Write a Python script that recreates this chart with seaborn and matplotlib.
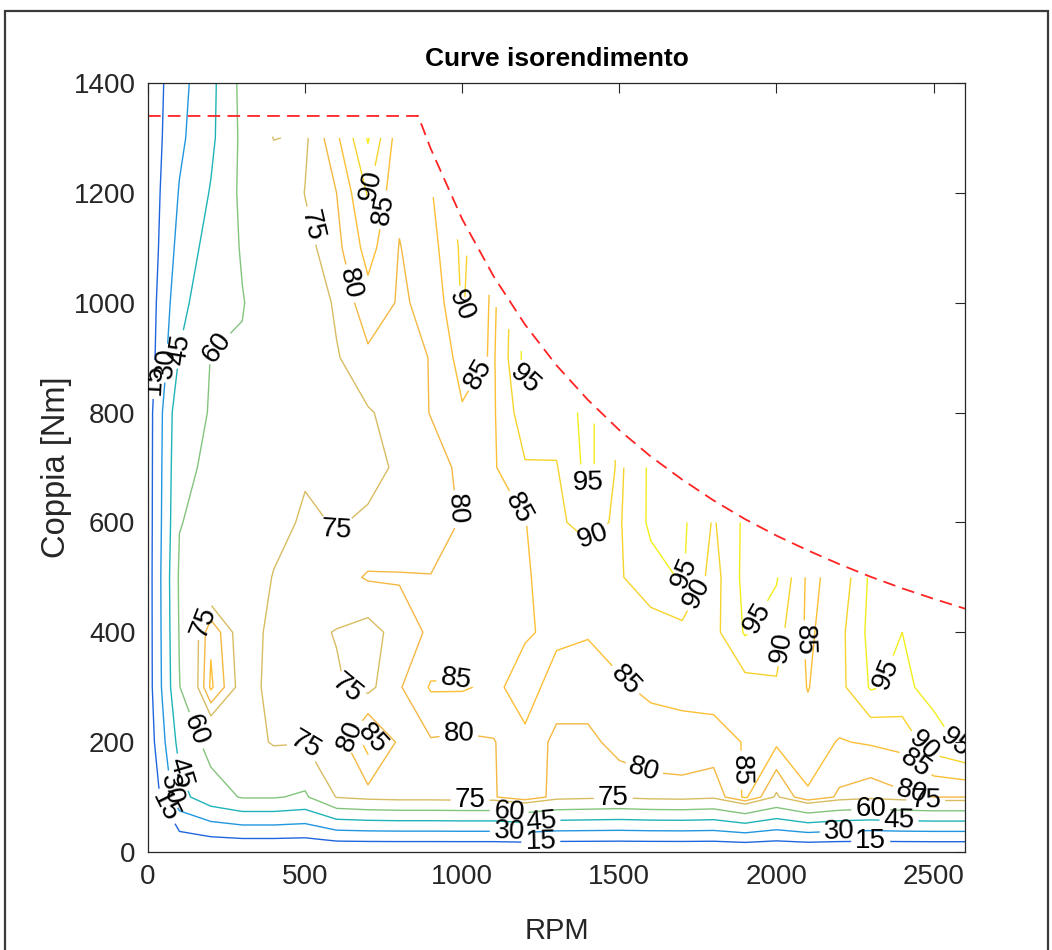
import numpy as np
import matplotlib
matplotlib.use("Agg")
import matplotlib.pyplot as plt
from matplotlib import font_manager
import seaborn as sns
from matplotlib.patches import Rectangle

# ---------------- data ----------------
N = np.nan
rpm = [0, 100, 200, 300, 400, 500, 600, 700, 800, 900, 1000, 1100, 1200, 1300,
       1400, 1500, 1600, 1700, 1800, 1900, 2000, 2100, 2200, 2300, 2400, 2500, 2600]
torque = [0, 100, 200, 300, 400, 500, 600, 700, 800, 900, 1000, 1100, 1200, 1300, 1400]

# efficiency (%) rows, one per torque value, columns follow `rpm`
eff_t0 = [0] * 27
eff_t100 = [0, 40, 54, 61, 61, 58, 75.5, 78, 79, 79, 79.5, 79.5, 84, 78, 77, 76, 77.5,
            78, 76.5, 86, 74, 84.5, 79, 77, 79, 80, 80]
eff_t200 = [6, 50, 65, 70, 76, 75.5, 77, 87, 79, 79.5, 79, 79.7, 84, 78.5, 78.5, 82, 83,
            83, 83, 85.3, 86, 87, 84.7, 85.5, 86.5, 93, 96]
eff_t300 = [8, 59.5, 86, 72, 77, 77, 75.5, 73.5, 79.5, 85.5, 85.5, 84, 87, 83, 83, 84.5,
            85.8, 86.5, 87, 88, 89.5, 84.8, 88.5, 95.5, 94, 96.5, 96.5]
eff_t400 = [8, 61, 84, 71, 77, 76, 74.8, 73, 77, 81, 82, 84, 84.5, 86, 85.3, 86.5, 87.5,
            88.5, 88.5, 95.5, 92, 84, 88.5, 96.5, 95, 96, 96.5]
eff_t500 = [8, 62, 66, 68, 75.5, 77, 78, 80.5, 80.5, 80.2, 81.5, 83.5, 84.5, 87, 88, 89.5,
            93, 95.5, 88, 96.5, 95.5, 84, 86.5, 96, N, N, N]
eff_t600 = [8, 59.5, 64, 66, 72, 76.3, 74.5, 76, 75.2, 77, 80.5, 84, 84.8, 89.5, 91, 89.5,
            96, 96, 89.5, 96, N, N, N, N, N, N, N]
eff_t700 = [8, 58, 61.5, 65, 70, 74, 72.5, 73, 76, 78, 81, 84.5, 89.5, 89.7, 96.5, 89, 96,
            N, N, N, N, N, N, N, N, N, N]
eff_t800 = [8, 56, 60.5, 63, 69, 71, 72, 74.5, 77, 80.2, 84.5, 84.5, 93, 92, 96.5,
            N, N, N, N, N, N, N, N, N, N, N, N]
eff_t900 = [6, 46, 60.3, 61, 68, 70, 74.5, 79, 78, 80.2, 87, 84.5, 96.5,
            N, N, N, N, N, N, N, N, N, N, N, N, N, N]
eff_t1000 = [6, 40, 56, 59.5, 66, 70, 76, 83, 79.5, 81, 90.5, 84,
             N, N, N, N, N, N, N, N, N, N, N, N, N, N, N]
eff_t1100 = [5, 35, 51, 61, 66, 73, 78.5, 87, 79.8, 83, 91,
             N, N, N, N, N, N, N, N, N, N, N, N, N, N, N, N]
eff_t1200 = [5, 31, 46, 63, 68, 75.2, 80, 90.5, 81, 84.5,
             N, N, N, N, N, N, N, N, N, N, N, N, N, N, N, N, N]
eff_t1300 = [5, 27, 42, 63, 75.3, 74, 84, 95.5, 82,
             N, N, N, N, N, N, N, N, N, N, N, N, N, N, N, N, N, N]
eff_t1400 = [5, 25, 41, 64,
             N, N, N, N, N, N, N, N, N, N, N, N, N, N, N, N, N, N, N, N, N, N, N]

levels = [15, 30, 45, 60, 75, 80, 85, 90, 95]

# maximum torque curve
curve_rpm = [0, 860, 900, 1000, 1100, 1200, 1300, 1400, 1500, 1600, 1700, 1800,
             1900, 2000, 2100, 2200, 2300, 2400, 2500, 2600]
curve_torque = [1340, 1340, 1280, 1152, 1048, 960, 886, 823, 768, 720, 678, 640,
                606, 576, 549, 524, 501, 480, 461, 443]

# ---------------- style ----------------
sns.set_theme(style="white")
available = {f.name for f in font_manager.fontManager.ttflist}
if "Liberation Sans Narrow" in available:
    narrow = "Liberation Sans Narrow"
    tick_size, title_size, xlab_size = 22, 21, 22
else:
    narrow = "Liberation Sans"
    tick_size, title_size, xlab_size = 20, 19, 21
plt.rcParams["font.family"] = [narrow, "Liberation Sans", "DejaVu Sans"]
plt.rcParams["axes.edgecolor"] = "#262626"
plt.rcParams["axes.linewidth"] = 0.9

level_colors = ["#1f66de", "#2196df", "#1fb3b9", "#83c47c", "#d8bc62",
                "#f4b843", "#fcbf35", "#f6d42c", "#f2ee1c"]

Z = np.array([eff_t0, eff_t100, eff_t200, eff_t300, eff_t400, eff_t500, eff_t600,
              eff_t700, eff_t800, eff_t900, eff_t1000, eff_t1100, eff_t1200,
              eff_t1300, eff_t1400], dtype=float)

fig = plt.figure(figsize=(10.52, 9.5), dpi=100)
ax = fig.add_axes([148 / 1052, 1 - 852 / 950, (965 - 148) / 1052, (852 - 83) / 950])

cs = ax.contour(rpm, torque, Z, levels=levels, colors=level_colors, linewidths=1.0)

sns.lineplot(x=curve_rpm, y=curve_torque, ax=ax, color="#ff2424", linewidth=1.3)
ax.lines[-1].set_dashes((7, 4))

label_pos = [(25, 860), (60, 890), (105, 915), (268, 892), (525, 1141), (621, 1032),
             (713, 1214), (748, 1169), (1000, 996), (1041, 874), (1190, 860),
             (971, 623), (1210, 635), (1424, 659), (1417, 573), (596, 553),
             (633, 295), (516, 200), (640, 213), (713, 207), (166, 422), (156, 222),
             (111, 146), (70, 113), (48, 80), (978, 328), (984, 240), (1025, 127),
             (1150, 80), (1250, 60), (1150, 40), (1250, 20), (1481, 95), (1576, 146),
             (1519, 313), (1710, 508), (1726, 477), (1895, 149), (1960, 420),
             (2038, 371), (2076, 386), (2341, 326), (2300, 80), (2390, 60),
             (2200, 40), (2300, 20), (2452, 182), (2427, 149), (2433, 116),
             (2570, 200), (2475, 95)]
ax.clabel(cs, manual=label_pos, inline=True, fmt="%d", fontsize=20,
          inline_spacing=4)
for t in cs.labelTexts:
    t.set_color("black")
    t.set_family(["Liberation Sans", "DejaVu Sans"])

ax.set_xlim(0, 2600)
ax.set_ylim(0, 1400)
ax.set_xticks([0, 500, 1000, 1500, 2000, 2500])
ax.set_yticks([0, 200, 400, 600, 800, 1000, 1200, 1400])
ax.tick_params(direction="in", length=7, width=0.8, top=True, right=True,
               labelsize=tick_size, colors="#262626", pad=9)
for s in ax.spines.values():
    s.set_visible(True)

ax.set_xlabel("RPM", fontsize=xlab_size, color="#262626", labelpad=19)
ax.set_ylabel("Coppia [Nm]", fontsize=23.5, color="#262626", labelpad=1,
              family=["Liberation Sans", "DejaVu Sans"])
ax.set_title("Curve isorendimento", fontsize=title_size, fontweight="bold",
             color="black", pad=12)

fig.patches.append(Rectangle((5 / 1052, -0.02), (1048 - 5) / 1052, (950 - 11) / 950 + 0.02,
                             transform=fig.transFigure, fill=False, edgecolor="#3a3a3a",
                             linewidth=1.6, clip_on=False))

fig.savefig("out.png", dpi=100)
